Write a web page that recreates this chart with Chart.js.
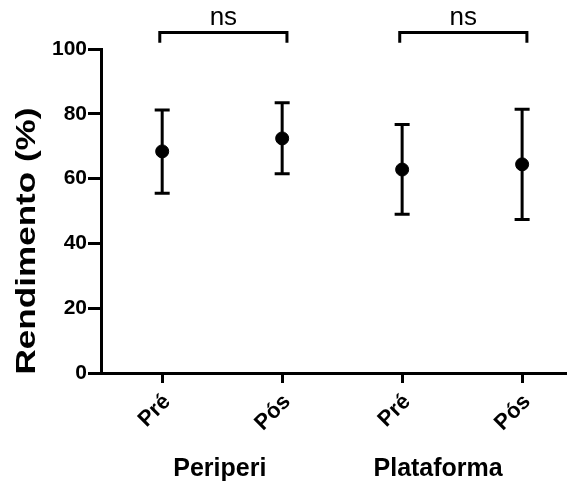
<!DOCTYPE html>
<html>
<head>
<meta charset="utf-8">
<script src="https://cdn.jsdelivr.net/npm/chart.js@4.4.1/dist/chart.umd.min.js"></script>
<style>
  html, body { margin: 0; padding: 0; background: #fff; }
  #wrap { width: 574px; height: 484px; }
</style>
</head>
<body>
<div id="wrap"><canvas id="chart" width="574" height="484"></canvas></div>
<script>
// values (mean with upper / lower error limits)
const categories = ["Pré", "Pós", "Pré", "Pós"];
const groups = ["Periperi", "Plataforma"];
const means = [68.4, 72.4, 62.8, 64.4];
const upper = [81.2, 83.4, 76.7, 81.4];
const lower = [55.5, 61.5, 49.0, 47.4];
const yTicks = [0, 20, 40, 60, 80, 100];
const sigLabels = ["ns", "ns"];

const FONT = "'Liberation Sans', Arial, sans-serif";

// comparison brackets (x in category units, y in %)
const brackets = [
  { x0: 0.98, x1: 2.04, top: 105.1, foot: 101.9 },
  { x0: 2.98, x1: 4.04, top: 105.1, foot: 101.9 },
];

const bracketSets = brackets.map((b) => ({
  type: "line",
  data: [
    { x: b.x0, y: b.foot },
    { x: b.x0, y: b.top },
    { x: b.x1, y: b.top },
    { x: b.x1, y: b.foot },
  ],
  borderColor: "#000",
  borderWidth: 3,
  pointRadius: 0,
  clip: false,
  fill: false,
}));

const errorBars = {
  id: "errorBars",
  beforeDatasetsDraw(chart) {
    const { ctx, scales } = chart;
    ctx.save();
    ctx.strokeStyle = "#000";
    ctx.lineWidth = 3;
    means.forEach((m, i) => {
      const x = scales.x.getPixelForValue(i + 1);
      const yHi = scales.y.getPixelForValue(upper[i]);
      const yLo = scales.y.getPixelForValue(lower[i]);
      ctx.beginPath();
      ctx.moveTo(x, yHi);
      ctx.lineTo(x, yLo);
      ctx.moveTo(x - 7.5, yHi);
      ctx.lineTo(x + 7.5, yHi);
      ctx.moveTo(x - 7.5, yLo);
      ctx.lineTo(x + 7.5, yLo);
      ctx.stroke();
    });
    ctx.restore();
  },
};

const extraText = {
  id: "extraText",
  afterDraw(chart) {
    const { ctx, scales } = chart;
    ctx.save();
    ctx.fillStyle = "#000";
    ctx.textAlign = "center";
    ctx.textBaseline = "alphabetic";

    // "ns" above each bracket
    ctx.font = "26px " + FONT;
    brackets.forEach((b, i) => {
      const x = scales.x.getPixelForValue((b.x0 + b.x1) / 2);
      ctx.fillText(sigLabels[i], x, scales.y.getPixelForValue(107.4));
    });

    // group names under the axis
    ctx.font = "bold 25px " + FONT;
    const groupX = [1.48, 3.3];
    groups.forEach((g, i) => {
      ctx.fillText(g, scales.x.getPixelForValue(groupX[i]), 476);
    });

    // y title, stretched along its length like the original
    ctx.textBaseline = "middle";
    ctx.font = "bold 28px " + FONT;
    const title = "Rendimento (%)";
    const w = ctx.measureText(title).width;
    ctx.translate(27, 241);
    ctx.rotate(-Math.PI / 2);
    ctx.scale(267 / w, 1);
    ctx.fillText(title, 0, 0);
    ctx.restore();
  },
};

new Chart(document.getElementById("chart"), {
  type: "scatter",
  data: {
    datasets: [
      {
        data: means.map((m, i) => ({ x: i + 1, y: m })),
        backgroundColor: "#000",
        borderColor: "#000",
        pointRadius: 6.5,
        pointHoverRadius: 6.5,
      },
      ...bracketSets,
    ],
  },
  options: {
    responsive: false,
    animation: false,
    events: [],
    layout: { padding: { top: 49, right: 0, bottom: 0, left: 0 } },
    plugins: { legend: { display: false }, tooltip: { enabled: false } },
    scales: {
      x: {
        type: "linear",
        min: 0.49,
        max: 4.37,
        afterBuildTicks: (s) => {
          s.ticks = categories.map((c, i) => ({ value: i + 1 }));
        },
        afterFit: (s) => {
          s.height = 111;
        },
        ticks: {
          callback: (v) => categories[v - 1],
          color: "#000",
          font: { family: FONT, size: 22, weight: "bold" },
          minRotation: 45,
          maxRotation: 45,
          padding: 6,
          labelOffset: 5,
        },
        grid: {
          drawOnChartArea: false,
          color: "#000",
          tickLength: 10,
          tickWidth: 3,
        },
        border: { color: "#000", width: 3 },
      },
      y: {
        min: 0,
        max: 100,
        afterBuildTicks: (s) => {
          s.ticks = yTicks.map((v) => ({ value: v }));
        },
        afterFit: (s) => {
          s.width = 101;
        },
        ticks: {
          color: "#000",
          font: { family: FONT, size: 21, weight: "bold" },
          padding: 1,
        },
        grid: {
          drawOnChartArea: false,
          color: "#000",
          tickLength: 13,
          tickWidth: 3,
        },
        border: { color: "#000", width: 3 },
      },
    },
  },
  plugins: [errorBars, extraText],
});
</script>
</body>
</html>
